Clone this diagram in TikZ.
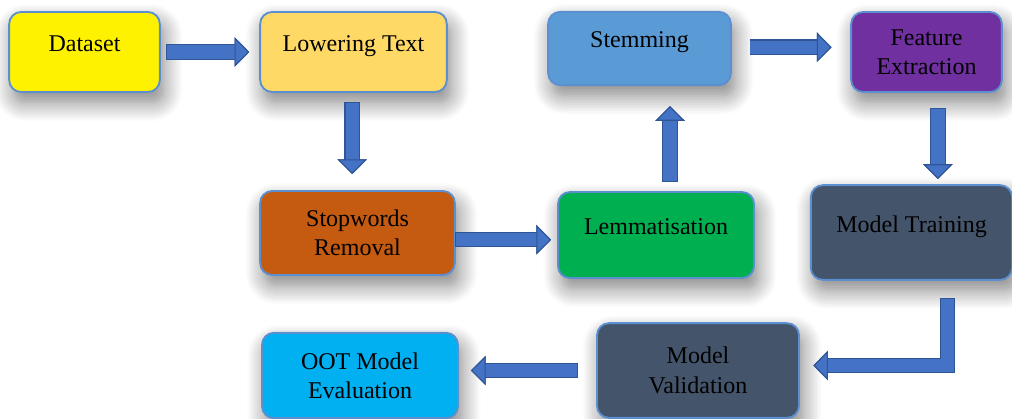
\documentclass[tikz,border=0pt]{standalone}
\usepackage{fontspec}
\setmainfont{Liberation Serif}
\usetikzlibrary{arrows.meta,shadows.blur}
\definecolor{boxedge}{HTML}{5B8FD0}
\definecolor{arrowfill}{HTML}{4472C4}
\definecolor{arrowedge}{HTML}{2F5597}
\definecolor{slate}{HTML}{44546A}
\begin{document}
\begin{tikzpicture}[x=0.75pt, y=-0.75pt,
   every node/.style={draw=boxedge, line width=1.4pt, rounded corners=9pt, align=center,
      font=\fontsize{18}{22}\selectfont, text=black,
      blur shadow={shadow xshift=3pt, shadow yshift=-8pt, shadow blur radius=14pt, shadow blur steps=12, shadow opacity=50}},
   upper/.style={text depth=13pt},
   flow/.style={draw=arrowfill, line width=10pt, line join=miter,
      -{Triangle[width=22pt, length=11pt, line width=0.8pt, fill=arrowfill, color=arrowedge]},
      preaction={draw=arrowedge, line width=11.6pt, shorten <=-0.6pt}}]

   \useasboundingbox (0,0) rectangle (1012,418);

   \node[upper, fill=yellow, minimum width=113pt, minimum height=60pt] (ds) at (84.5,52) {Dataset};
   \node[upper, fill={rgb,255:red,255;green,217;blue,102}, minimum width=140pt, minimum height=60pt] (lower) at (353.5,52) {Lowering Text};
   \node[upper, fill={rgb,255:red,91;green,155;blue,213}, minimum width=137pt, minimum height=55pt] (stem) at (639.5,48.5) {Stemming};
   \node[fill={rgb,255:red,112;green,48;blue,160}, minimum width=113pt, minimum height=60pt] (feat) at (926.5,52) {Feature\\Extraction};
   \node[fill={rgb,255:red,197;green,90;blue,17}, minimum width=146pt, minimum height=63pt] (stop) at (357.5,233) {Stopwords\\Removal};
   \node[upper, fill={rgb,255:red,0;green,176;blue,80}, minimum width=147pt, minimum height=64.5pt] (lemma) at (656,235) {Lemmatisation};
   \node[upper, fill=slate, minimum width=151pt, minimum height=71pt] (train) at (911.5,232.5) {Model Training};
   \node[fill=slate, minimum width=151.5pt, minimum height=71pt] (valid) at (698,370.5) {Model\\Validation};
   \node[fill={rgb,255:red,0;green,176;blue,240}, minimum width=147pt, minimum height=64pt] (oot) at (360,375.5) {OOT Model\\Evaluation};

   \draw[flow] ([xshift=4.5pt]ds.east) -- ([xshift=-7.5pt]lower.west);
   \draw[flow] ([xshift=-1pt,yshift=-7.5pt]lower.south) -- ([xshift=-1pt,yshift=12pt]lower.south |- stop.north);
   \draw[flow] ([yshift=-5pt]stop.east) -- ([xshift=-4.5pt,yshift=-5pt]stop.east -| lemma.west);
   \draw[flow] ([xshift=10.5pt,yshift=7.5pt]lemma.north) -- ([xshift=10.5pt,yshift=-15pt]lemma.north |- stem.south);
   \draw[flow] ([xshift=14pt,yshift=1pt]stem.east) -- ([xshift=-14pt,yshift=1pt]stem.east -| feat.west);
   \draw[flow] ([xshift=8.5pt,yshift=-12pt]feat.south) -- ([xshift=8.5pt,yshift=4pt]feat.south |- train.north);
   \draw[flow] ([xshift=27pt,yshift=-13.5pt]train.south) |- ([xshift=10pt,yshift=3.75pt]valid.east);
   \draw[flow] ([xshift=-14pt]valid.west) -- ([xshift=9pt]valid.west -| oot.east);

\end{tikzpicture}
\end{document}
